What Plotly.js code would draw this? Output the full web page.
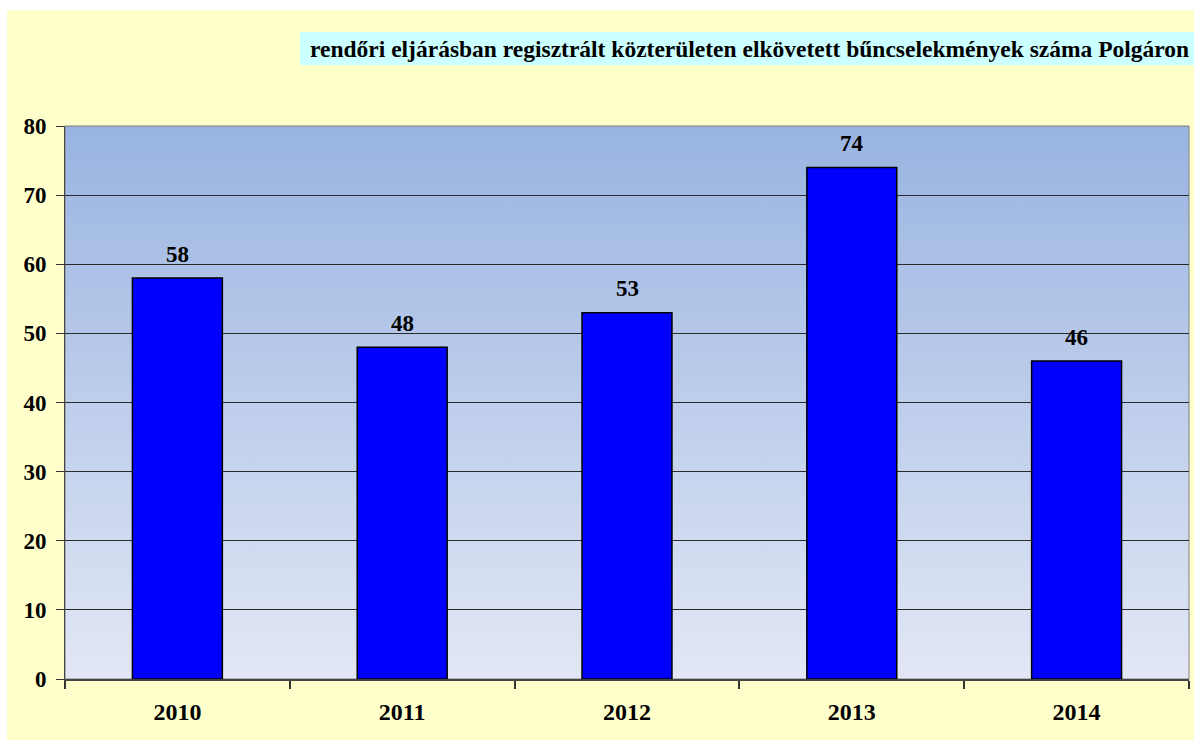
<!DOCTYPE html>
<html>
<head>
<meta charset="utf-8">
<script src="https://cdn.plot.ly/plotly-3.0.1.min.js"></script>
<style>
  html, body { margin: 0; padding: 0; background: #ffffff; }
  #chart { position: absolute; left: 7px; top: 10px; width: 1187px; height: 730px; }
</style>
</head>
<body>
<div id="chart"></div>
<script>
const years = ['2010', '2011', '2012', '2013', '2014'];
const counts = [58, 48, 53, 74, 46];
const yTicks = [0, 10, 20, 30, 40, 50, 60, 70, 80];
const titleText = 'rendőri eljárásban regisztrált közterületen elkövetett bűncselekmények száma Polgáron';

const gradSvg = '<svg xmlns="http://www.w3.org/2000/svg" width="100" height="100" preserveAspectRatio="none">' +
  '<defs><linearGradient id="g" x1="0" y1="0" x2="0" y2="1">' +
  '<stop offset="0" stop-color="#99B4E1"/><stop offset="1" stop-color="#E2E7F5"/>' +
  '</linearGradient></defs><rect width="100" height="100" fill="url(#g)"/></svg>';
const gradUri = 'data:image/svg+xml;charset=utf-8,' + encodeURIComponent(gradSvg);

const font = 'Liberation Serif, Times New Roman, serif';

const trace = {
  type: 'bar',
  x: years,
  y: counts,
  marker: { color: '#0000FF', line: { color: '#000000', width: 1.5 } },
  hoverinfo: 'x+y'
};

const valueLabels = years.map((yr, i) => ({
  x: i, y: counts[i], xref: 'x', yref: 'y',
  text: '<b>' + counts[i] + '</b>',
  showarrow: false,
  yanchor: 'middle', xanchor: 'center',
  yshift: 24,
  font: { family: font, size: 23, color: '#000000' }
}));

const layout = {
  width: 1187,
  height: 730,
  margin: { l: 58, r: 5, t: 116, b: 61 },
  paper_bgcolor: '#FFFFCC',
  plot_bgcolor: 'rgba(0,0,0,0)',
  bargap: 0.6,
  showlegend: false,
  font: { family: font, color: '#000000' },
  xaxis: {
    type: 'category',
    range: [-0.5, 4.5],
    tickson: 'boundaries',
    ticks: 'outside',
    ticklen: 8,
    tickcolor: '#333333',
    tickwidth: 2,
    showline: true,
    linecolor: '#444444',
    linewidth: 2,
    showgrid: false,
    tickfont: { family: font, size: 24, color: '#000000', weight: 'bold' },
    ticklabelstandoff: 10
  },
  yaxis: {
    range: [0, 80],
    tickvals: yTicks,
    ticktext: yTicks.map(String),
    ticks: 'outside',
    ticklen: 8,
    tickcolor: '#333333',
    tickwidth: 1,
    showline: true,
    linecolor: '#444444',
    linewidth: 1,
    showgrid: true,
    gridcolor: '#2a2a2a',
    gridwidth: 1,
    zeroline: false,
    tickfont: { family: font, size: 23, color: '#000000', weight: 'bold' },
    ticklabelstandoff: 5,
    mirror: false
  },
  images: [{
    source: gradUri,
    xref: 'paper', yref: 'paper',
    x: 0, y: 1, sizex: 1, sizey: 1,
    xanchor: 'left', yanchor: 'top',
    sizing: 'stretch',
    layer: 'below'
  }],
  shapes: [{
    type: 'rect', xref: 'paper', yref: 'paper',
    x0: 0, x1: 1, y0: 0, y1: 1,
    line: { color: '#808080', width: 1 },
    fillcolor: 'rgba(0,0,0,0)',
    layer: 'below'
  }, {
    type: 'rect', xref: 'paper', yref: 'paper',
    x0: (293 - 58) / 1124, x1: (1187 - 58) / 1124,
    y0: 1 + (116 - 55) / 553, y1: 1 + (116 - 22) / 553,
    line: { width: 0 },
    fillcolor: '#CCFFFF',
    layer: 'below'
  }],
  annotations: valueLabels.concat([{
    text: '<b>' + titleText + '</b>',
    xref: 'paper', yref: 'paper',
    x: (1183 - 58) / 1124, y: 1.0 + (116 - 38.5) / 553,
    xanchor: 'right', yanchor: 'middle',
    showarrow: false,
    borderpad: 0,
    font: { family: font, size: 23.5, color: '#000000' }
  }])
};

Plotly.newPlot('chart', [trace], layout, { displayModeBar: false, staticPlot: true });
</script>
</body>
</html>
